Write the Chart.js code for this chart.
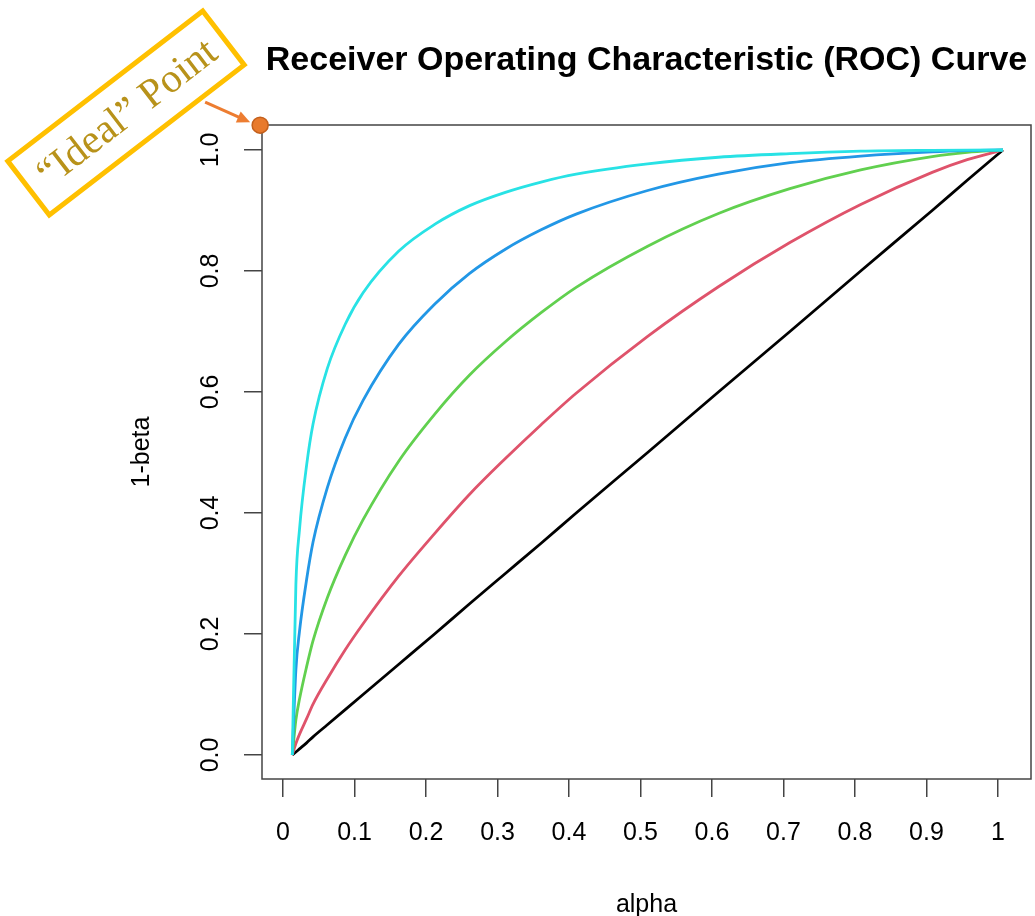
<!DOCTYPE html>
<html><head><meta charset="utf-8">
<script src="https://cdn.jsdelivr.net/npm/chart.js@4.4.1/dist/chart.umd.min.js"></script>
<style>html,body{margin:0;padding:0;background:#fff;}</style>
</head><body>
<canvas id="c" width="1035" height="916" style="display:block"></canvas>
<script>
// ---- data (alpha as placed on the drawn axis) ----
const alpha = [0.013, 0.018, 0.023, 0.033, 0.042, 0.062, 0.087, 0.112, 0.162, 0.212, 0.261, 0.311, 0.361, 0.410, 0.510, 0.609, 0.709, 0.808, 0.908, 0.957, 1.007];
const powerBlack = [0, 0.005, 0.01, 0.02, 0.03, 0.05, 0.075, 0.1, 0.15, 0.2, 0.25, 0.3, 0.35, 0.4, 0.5, 0.6, 0.7, 0.8, 0.9, 0.95, 1];
const powerRed   = [0, 0.019, 0.034, 0.060, 0.084, 0.126, 0.174, 0.217, 0.296, 0.366, 0.431, 0.490, 0.546, 0.598, 0.692, 0.774, 0.847, 0.910, 0.963, 0.984, 1];
const powerGreen = [0, 0.058, 0.092, 0.146, 0.189, 0.260, 0.330, 0.389, 0.486, 0.563, 0.628, 0.683, 0.731, 0.773, 0.841, 0.895, 0.936, 0.967, 0.989, 0.996, 1];
const powerBlue  = [0, 0.141, 0.204, 0.290, 0.352, 0.442, 0.524, 0.586, 0.679, 0.745, 0.796, 0.836, 0.868, 0.894, 0.933, 0.960, 0.979, 0.990, 0.997, 0.999, 1];
const powerCyan  = [0, 0.282, 0.372, 0.479, 0.547, 0.639, 0.712, 0.764, 0.833, 0.877, 0.908, 0.930, 0.947, 0.960, 0.977, 0.988, 0.994, 0.998, 0.9995, 0.9999, 1];
const idealPoint = [{x: -0.032, y: 1.041}];
const xTickLabels = ["0", "0.1", "0.2", "0.3", "0.4", "0.5", "0.6", "0.7", "0.8", "0.9", "1"];
const yTickLabels = ["0.0", "0.2", "0.4", "0.6", "0.8", "1.0"];
const titleText = "Receiver Operating Characteristic (ROC) Curve";
const xTitle = "alpha";
const yTitle = "1-beta";
const calloutText = "\u201CIdeal\u201D Point";

// ---- build ----
const series = [
  {vals: powerBlack, color: "#000000", order: 5},
  {vals: powerRed,   color: "#DF536B", order: 4},
  {vals: powerGreen, color: "#61D04F", order: 3},
  {vals: powerBlue,  color: "#2297E6", order: 2},
  {vals: powerCyan,  color: "#28E2E5", order: 1}
];
const datasets = series.map(s => ({
  data: alpha.map((a, i) => ({x: a, y: s.vals[i]})),
  borderColor: s.color, borderWidth: 2.8, pointRadius: 0, showLine: true,
  cubicInterpolationMode: 'monotone', order: s.order, fill: false
}));
datasets.push({
  data: idealPoint, pointRadius: 8, pointBackgroundColor: "#E87A2C",
  pointBorderColor: "#C4601C", pointBorderWidth: 1.5, showLine: false, clip: false, order: 0
});

const FONT = '"Liberation Sans", Arial, sans-serif';

const decor = {
  id: 'decor',
  beforeDatasetsDraw(chart) {
    const {ctx, chartArea: a} = chart;
    ctx.save();
    ctx.strokeStyle = '#444';
    ctx.lineWidth = 1.5;
    ctx.strokeRect(a.left, a.top, a.right - a.left, a.bottom - a.top);
    ctx.restore();
  },
  afterDraw(chart) {
    const {ctx} = chart;
    const px = chart.scales.x.getPixelForValue(idealPoint[0].x);
    const py = chart.scales.y.getPixelForValue(idealPoint[0].y);
    // arrow
    const tipX = px - 10, tipY = py - 3, tailX = px - 55, tailY = py - 23;
    const ang = Math.atan2(tipY - tailY, tipX - tailX);
    ctx.save();
    ctx.strokeStyle = '#ED7D31'; ctx.fillStyle = '#ED7D31'; ctx.lineWidth = 3;
    ctx.beginPath(); ctx.moveTo(tailX, tailY);
    ctx.lineTo(tipX - 10 * Math.cos(ang), tipY - 10 * Math.sin(ang)); ctx.stroke();
    ctx.beginPath();
    ctx.moveTo(tipX, tipY);
    ctx.lineTo(tipX - 13 * Math.cos(ang) + 6 * Math.sin(ang), tipY - 13 * Math.sin(ang) - 6 * Math.cos(ang));
    ctx.lineTo(tipX - 13 * Math.cos(ang) - 6 * Math.sin(ang), tipY - 13 * Math.sin(ang) + 6 * Math.cos(ang));
    ctx.closePath(); ctx.fill();
    // callout box
    ctx.translate(126, 113);
    ctx.rotate(-37.6 * Math.PI / 180);
    ctx.strokeStyle = '#FFC000'; ctx.lineWidth = 5;
    ctx.strokeRect(-123, -34, 246, 68);
    ctx.fillStyle = '#B8921A';
    ctx.font = '41px "Liberation Serif", "Times New Roman", serif';
    ctx.textAlign = 'center'; ctx.textBaseline = 'middle';
    ctx.fillText(calloutText, 1, 2);
    ctx.restore();
  }
};

new Chart(document.getElementById('c'), {
  type: 'scatter',
  data: {datasets},
  plugins: [decor],
  options: {
    responsive: false, animation: false, events: [],
    layout: {autoPadding: false, padding: {left: 0, right: 4, top: 0, bottom: 0}},
    plugins: {
      legend: {display: false}, tooltip: {enabled: false},
      title: {display: true, text: titleText, fullSize: false, color: '#000',
        font: {family: FONT, size: 34, weight: 'bold', lineHeight: 1.2},
        padding: {top: 40, bottom: 44.2}}
    },
    scales: {
      x: {
        type: 'linear', min: -0.0294, max: 1.0462,
        afterFit(s) { s.height = 137; s.paddingLeft = 0; s.paddingRight = 0; },
        border: {display: false},
        grid: {drawOnChartArea: false, drawTicks: true, tickLength: 18, color: '#444', lineWidth: 1.5},
        ticks: {stepSize: 0.1, includeBounds: false, autoSkip: false, padding: 21, color: '#000',
          font: {family: FONT, size: 25},
          callback: (v) => { const i = Math.round(v * 10); return (i >= 0 && i <= 10) ? xTickLabels[i] : ''; }},
        title: {display: true, text: xTitle, color: '#000', font: {family: FONT, size: 25, lineHeight: 1}, padding: {top: 0, bottom: -2}}
      },
      y: {
        type: 'linear', min: -0.0397, max: 1.0413,
        afterFit(s) { s.width = 262; s.paddingTop = 0; s.paddingBottom = 0; },
        border: {display: false},
        grid: {drawOnChartArea: false, drawTicks: true, tickLength: 18, color: '#444', lineWidth: 1.5},
        ticks: {stepSize: 0.2, includeBounds: false, autoSkip: false, padding: 16, color: '#000',
          minRotation: 90, maxRotation: 90, crossAlign: 'center',
          font: {family: FONT, size: 25},
          callback: (v) => { const i = Math.round(v * 5); return (i >= 0 && i <= 5) ? yTickLabels[i] : ''; }},
        title: {display: true, text: yTitle, color: '#000', font: {family: FONT, size: 25, lineHeight: 1}, padding: {top: 130, bottom: 0}}
      }
    }
  }
});
</script>
</body></html>
